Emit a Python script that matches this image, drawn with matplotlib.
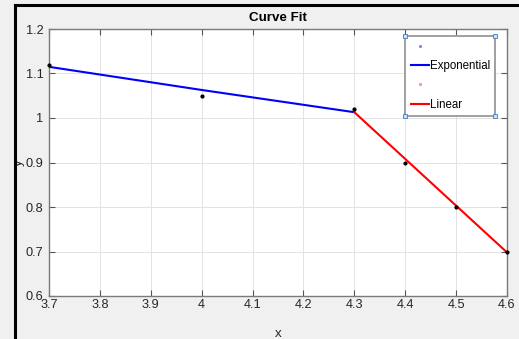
import matplotlib

matplotlib.use("Agg", force=True)
import matplotlib.pyplot as plt
from matplotlib.lines import Line2D

x_data = [3.7, 4.0, 4.3, 4.4, 4.5, 4.6]
y_data = [1.12, 1.05, 1.02, 0.90, 0.80, 0.70]

x_exp = [3.7, 4.0, 4.3]
y_exp = [1.115, 1.063, 1.013]

x_lin = [4.3, 4.6]
y_lin = [1.013, 0.698]

x_ticks = [3.7, 3.8, 3.9, 4.0, 4.1, 4.2, 4.3, 4.4, 4.5, 4.6]
x_tick_labels = ["3.7", "3.8", "3.9", "4", "4.1", "4.2", "4.3", "4.4", "4.5", "4.6"]
y_ticks = [0.6, 0.7, 0.8, 0.9, 1.0, 1.1, 1.2]
y_tick_labels = ["0.6", "0.7", "0.8", "0.9", "1", "1.1", "1.2"]

plt.rcParams["font.family"] = ["Liberation Sans", "DejaVu Sans"]

W, H = 519, 339
fig = plt.figure(figsize=(W / 100, H / 100), dpi=100)
fig.patch.set_facecolor("#f0f0f0")

ax = fig.add_axes([49 / W, 1 - 296 / H, 458 / W, 267 / H])
ax.set_facecolor("white")

ax.plot(x_exp, y_exp, color="#0000ff", linewidth=1.5, zorder=3)
ax.plot(x_lin, y_lin, color="#ff0000", linewidth=1.5, zorder=3)
ax.plot(x_data, y_data, "o", color="black", markersize=2.0, zorder=4, clip_on=False)

ax.set_xlim(3.7, 4.6)
ax.set_ylim(0.6, 1.2)
ax.set_xticks(x_ticks, x_tick_labels)
ax.set_yticks(y_ticks, y_tick_labels)
ax.grid(True, color="#e3e3e3", linewidth=0.7)
ax.set_axisbelow(True)
ax.tick_params(direction="in", length=4, width=0.8, color="#555555", labelsize=9.2,
               labelcolor="#262626", top=True, right=True)
ax.tick_params(axis="x", pad=2)
ax.tick_params(axis="y", pad=4)
for sp in ax.spines.values():
    sp.set_color("#7a7a7a")
    sp.set_linewidth(1.0)

ax.set_title("Curve Fit", fontsize=9.6, fontweight="bold", color="black", pad=6)
ax.set_xlabel("x", fontsize=9.6, color="#262626")
ax.set_ylabel("y", fontsize=9.6, color="#262626")
ax.xaxis.set_label_coords(0.5, -0.118)
ax.yaxis.set_label_coords(-0.052, 0.5)

handles = [
    Line2D([], [], linestyle="none", marker="s", markersize=1.1, color="#8080ff"),
    Line2D([], [], color="#0000ff", linewidth=1.5),
    Line2D([], [], linestyle="none", marker="s", markersize=1.1, color="#ff9090"),
    Line2D([], [], color="#ff0000", linewidth=1.5),
]
labels = [" ", "Exponential", " ", "Linear"]
leg = ax.legend(handles, labels, loc="upper right", bbox_to_anchor=(0.974, 0.974),
                borderaxespad=0, fancybox=False, framealpha=1, edgecolor="#a0a0a0",
                fontsize=8.3, handlelength=1.55, handletextpad=0.1, labelspacing=0.62,
                borderpad=0.45)
leg.get_frame().set_linewidth(1.4)

# selection handles on legend corners
fig.canvas.draw()
bb = leg.get_window_extent()
for cx in (bb.x0, bb.x1):
    for cy in (bb.y0, bb.y1):
        fig.add_artist(Line2D([cx / W], [cy / H], marker="s", markersize=2.5,
                              markerfacecolor="#cfe0f5", markeredgecolor="#3d7fc1",
                              markeredgewidth=0.6, transform=fig.transFigure))

# window border
fig.add_artist(Line2D([15 / W, 15 / W], [0, 1 - 5 / H], color="black", linewidth=2.2,
                      transform=fig.transFigure))
fig.add_artist(Line2D([15 / W, 1], [1 - 5 / H, 1 - 5 / H], color="black", linewidth=2.2,
                      transform=fig.transFigure))

fig.savefig("out.png", dpi=100, facecolor=fig.get_facecolor())
